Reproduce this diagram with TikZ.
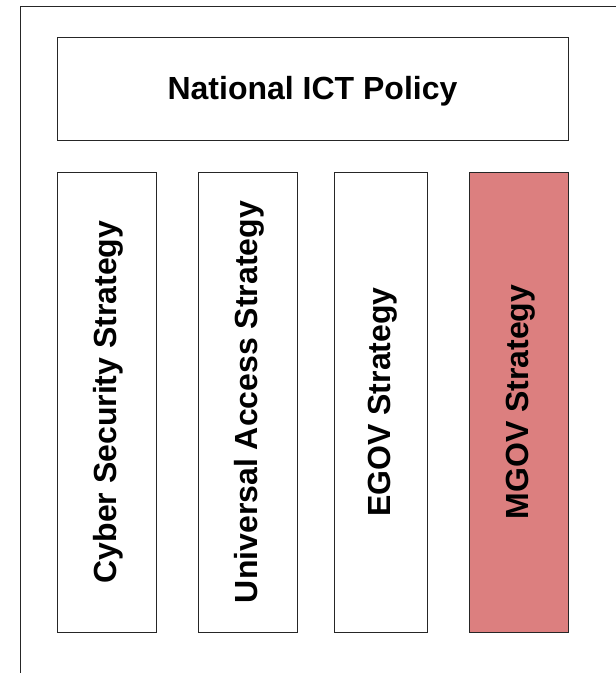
\documentclass[tikz,border=0pt]{standalone}
\usepackage{fontspec}
\setmainfont{Liberation Sans}
\begin{document}
\begin{tikzpicture}[x=1pt,y=-1pt,
  box/.style={draw=black!85,line width=1pt,inner sep=0pt},
  lbl/.style={font=\fontsize{32}{38}\selectfont\bfseries},
  vlbl/.style={font=\fontsize{32}{38}\selectfont\bfseries,rotate=90}]
\useasboundingbox (0,0) rectangle (616,673);
\coordinate (ftl) at (20.5,6);
\coordinate (ftr) at (616,6);
\coordinate (fbl) at (20.5,673);
\draw[line width=1pt,black!85] (ftr) -- (ftl) -- (fbl);
\node[box,minimum width=511pt,minimum height=103pt] (title) at (312.5,88.5) {};
\node[lbl] (titletext) at ([yshift=-3pt]title.center) {National ICT Policy};
\node[box,minimum width=99pt,minimum height=460pt] (b1) at (106.5,402) {};
\node[box,minimum width=99pt,minimum height=460pt] (b2) at (247.5,402) {};
\node[box,minimum width=93pt,minimum height=460pt] (b3) at (380.5,402) {};
\node[box,fill={rgb,255:red,220;green,127;blue,127},minimum width=99pt,minimum height=460pt] (b4) at (518.5,402) {};
\node[vlbl] (t1) at ([xshift=2pt]b1.center) {Cyber Security Strategy};
\node[vlbl] (t2) at ([xshift=2pt]b2.center) {Universal Access Strategy};
\node[vlbl] (t3) at ([xshift=2pt]b3.center) {EGOV Strategy};
\node[vlbl] (t4) at ([xshift=2pt]b4.center) {MGOV Strategy};
\end{tikzpicture}
\end{document}
